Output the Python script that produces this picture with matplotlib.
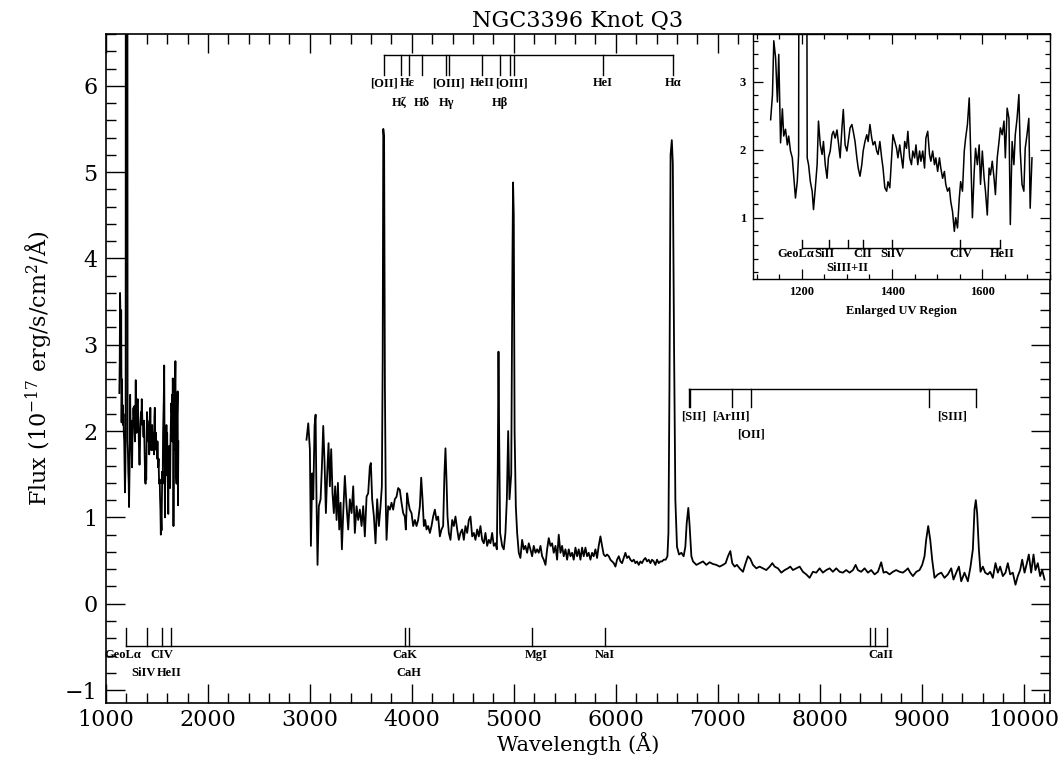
import numpy as np
import matplotlib
matplotlib.use('Agg')
import matplotlib.pyplot as plt
from matplotlib.ticker import MultipleLocator

plt.rcParams['font.family'] = 'serif'
plt.rcParams['font.serif'] = ['DejaVu Serif Condensed', 'DejaVu Serif']
plt.rcParams['mathtext.fontset'] = 'dejavuserif'

# UV part of the spectrum (wavelength in A, flux in 1e-17 erg/s/cm2/A)
uv_spec = [
    (1131, 2.44), (1135, 2.80), (1138, 3.60), (1142, 3.35), (1146, 2.70), (1149, 3.40), (1153, 2.10), (1157, 2.60), (1160, 2.20), (1164, 2.30),
    (1168, 2.07), (1171, 2.20), (1175, 1.98), (1179, 1.88), (1182, 1.63), (1186, 1.29), (1190, 1.53), (1193, 1.93), (1195, 12.0), (1209, 12.0),
    (1212, 1.88), (1215, 1.78), (1219, 1.53), (1223, 1.39), (1226, 1.12), (1230, 1.44), (1234, 1.78), (1237, 2.42), (1241, 2.07), (1245, 1.93),
    (1248, 2.12), (1252, 1.78), (1256, 1.58), (1259, 1.88), (1263, 1.98), (1267, 2.22), (1270, 2.27), (1274, 2.17), (1278, 2.29), (1281, 2.12),
    (1285, 1.88), (1289, 2.32), (1292, 2.59), (1296, 2.07), (1300, 1.98), (1303, 2.12), (1307, 2.32), (1311, 2.37), (1314, 2.27), (1318, 2.12),
    (1322, 1.88), (1325, 1.73), (1329, 1.61), (1333, 1.78), (1336, 1.98), (1340, 2.12), (1344, 2.22), (1347, 2.12), (1351, 2.37), (1355, 2.17),
    (1358, 2.07), (1362, 2.12), (1366, 1.98), (1369, 1.93), (1373, 2.12), (1377, 1.88), (1380, 1.73), (1384, 1.44), (1388, 1.39), (1391, 1.53),
    (1395, 1.44), (1399, 1.88), (1402, 2.22), (1406, 2.12), (1410, 2.02), (1413, 1.88), (1417, 2.07), (1421, 1.88), (1424, 1.73), (1428, 2.12),
    (1432, 2.02), (1435, 2.27), (1439, 1.88), (1443, 1.78), (1446, 1.98), (1450, 1.88), (1453, 2.07), (1457, 1.78), (1461, 1.98), (1464, 1.83),
    (1468, 1.98), (1472, 1.73), (1475, 2.17), (1479, 2.27), (1483, 1.93), (1486, 1.83), (1490, 1.98), (1494, 1.78), (1497, 1.88), (1501, 1.68),
    (1505, 1.88), (1508, 1.73), (1512, 1.58), (1516, 1.68), (1519, 1.49), (1523, 1.39), (1527, 1.44), (1530, 1.24), (1534, 1.09), (1538, 0.80),
    (1541, 1.00), (1545, 0.85), (1549, 1.29), (1552, 1.53), (1556, 1.39), (1560, 1.98), (1563, 2.17), (1567, 2.37), (1571, 2.76), (1574, 1.98),
    (1578, 1.00), (1582, 1.68), (1585, 2.02), (1589, 1.78), (1593, 2.07), (1596, 1.49), (1600, 1.98), (1604, 1.58), (1607, 1.39), (1611, 1.04),
    (1615, 1.73), (1618, 1.63), (1622, 1.83), (1626, 1.58), (1629, 1.34), (1633, 1.88), (1637, 2.12), (1640, 2.32), (1644, 2.22), (1648, 2.42),
    (1651, 1.88), (1655, 2.61), (1659, 2.46), (1662, 0.90), (1666, 2.12), (1670, 1.78), (1673, 2.22), (1677, 2.46), (1681, 2.81), (1684, 1.98),
    (1688, 1.49), (1692, 1.39), (1695, 2.02), (1699, 2.22), (1703, 2.46), (1706, 1.14), (1710, 1.88),
]

# optical part of the spectrum
opt_spec = [
    (2967, 1.90), (2984, 2.09), (3000, 1.79), (3010, 0.67), (3023, 1.51), (3033, 1.21), (3046, 2.06), (3056, 2.19), (3065, 1.21), (3075, 0.45),
    (3088, 1.13), (3105, 1.21), (3118, 1.59), (3131, 2.06), (3144, 1.63), (3157, 1.05), (3170, 1.51), (3183, 1.86), (3196, 1.36), (3209, 1.79),
    (3222, 1.28), (3235, 1.05), (3248, 1.36), (3262, 0.97), (3275, 1.40), (3288, 0.86), (3301, 1.17), (3314, 0.63), (3327, 1.05), (3343, 1.48),
    (3360, 1.13), (3376, 0.86), (3392, 1.21), (3409, 1.05), (3425, 1.36), (3441, 0.82), (3458, 1.13), (3474, 0.97), (3490, 1.09), (3507, 0.90),
    (3523, 1.13), (3539, 0.78), (3556, 1.24), (3572, 1.28), (3588, 1.59), (3598, 1.63), (3611, 1.21), (3628, 1.01), (3644, 0.70), (3660, 1.21),
    (3677, 0.90), (3693, 1.13), (3706, 1.36), (3714, 2.80), (3720, 5.50), (3728, 5.40), (3736, 2.50), (3745, 1.13), (3752, 0.74), (3768, 1.13),
    (3784, 1.09), (3801, 1.17), (3817, 1.09), (3833, 1.21), (3850, 1.24), (3866, 1.34), (3882, 1.32), (3899, 1.17), (3915, 1.05), (3931, 1.01),
    (3941, 0.86), (3954, 1.28), (3967, 1.17), (3980, 1.09), (3997, 1.05), (4013, 0.90), (4030, 0.97), (4046, 0.90), (4062, 0.97), (4079, 1.13),
    (4092, 1.46), (4105, 1.21), (4118, 0.90), (4131, 0.97), (4144, 0.86), (4160, 0.90), (4177, 0.82), (4193, 0.90), (4209, 1.01), (4226, 1.09),
    (4242, 0.97), (4258, 1.01), (4275, 0.78), (4291, 0.86), (4307, 0.90), (4320, 1.51), (4330, 1.80), (4340, 1.44), (4350, 1.01), (4363, 0.82),
    (4379, 0.74), (4396, 0.97), (4412, 0.90), (4428, 1.01), (4445, 0.86), (4461, 0.74), (4477, 0.82), (4494, 0.86), (4510, 0.74), (4526, 0.90),
    (4543, 0.82), (4559, 0.97), (4575, 1.01), (4592, 0.78), (4608, 0.82), (4624, 0.74), (4641, 0.86), (4657, 0.78), (4673, 0.90), (4690, 0.74),
    (4706, 0.70), (4722, 0.82), (4739, 0.67), (4755, 0.74), (4771, 0.70), (4788, 0.82), (4804, 0.67), (4820, 0.70), (4834, 0.63), (4843, 1.60),
    (4850, 2.92), (4857, 1.90), (4866, 0.82), (4886, 0.67), (4902, 0.63), (4918, 0.82), (4932, 1.21), (4945, 2.00), (4958, 1.21), (4975, 1.50),
    (4987, 4.00), (4993, 4.88), (5000, 4.50), (5008, 2.00), (5020, 1.13), (5033, 0.82), (5049, 0.59), (5065, 0.53), (5082, 0.74), (5098, 0.63),
    (5114, 0.67), (5131, 0.59), (5147, 0.70), (5163, 0.63), (5180, 0.55), (5196, 0.67), (5213, 0.59), (5229, 0.63), (5245, 0.59), (5262, 0.67),
    (5278, 0.55), (5294, 0.51), (5311, 0.45), (5327, 0.63), (5343, 0.76), (5360, 0.67), (5376, 0.70), (5392, 0.59), (5409, 0.67), (5425, 0.51),
    (5441, 0.80), (5458, 0.59), (5474, 0.67), (5490, 0.55), (5507, 0.63), (5523, 0.51), (5539, 0.63), (5556, 0.55), (5572, 0.59), (5588, 0.51),
    (5605, 0.65), (5621, 0.55), (5637, 0.63), (5654, 0.51), (5670, 0.65), (5686, 0.55), (5703, 0.65), (5719, 0.55), (5735, 0.59), (5752, 0.51),
    (5768, 0.59), (5784, 0.55), (5801, 0.63), (5817, 0.53), (5833, 0.67), (5850, 0.78), (5866, 0.67), (5882, 0.57), (5899, 0.55), (5915, 0.57),
    (5932, 0.55), (5948, 0.51), (5964, 0.49), (5981, 0.47), (5997, 0.43), (6013, 0.51), (6030, 0.55), (6046, 0.49), (6062, 0.47), (6079, 0.53),
    (6095, 0.59), (6111, 0.53), (6128, 0.55), (6144, 0.51), (6160, 0.49), (6177, 0.51), (6193, 0.47), (6209, 0.49), (6226, 0.45), (6242, 0.49),
    (6258, 0.47), (6275, 0.51), (6291, 0.53), (6307, 0.49), (6324, 0.51), (6340, 0.47), (6356, 0.51), (6373, 0.49), (6389, 0.45), (6405, 0.51),
    (6422, 0.47), (6438, 0.49), (6454, 0.49), (6471, 0.51), (6490, 0.51), (6507, 0.55), (6517, 0.82), (6527, 2.50), (6538, 5.20), (6550, 5.37),
    (6560, 5.10), (6572, 3.00), (6585, 1.20), (6601, 0.66), (6621, 0.57), (6644, 0.59), (6666, 0.55), (6683, 0.66), (6696, 0.93), (6712, 1.11),
    (6725, 0.90), (6742, 0.55), (6758, 0.49), (6791, 0.45), (6823, 0.47), (6856, 0.49), (6889, 0.45), (6921, 0.48), (6954, 0.46), (6987, 0.45),
    (7019, 0.43), (7052, 0.45), (7078, 0.47), (7101, 0.55), (7124, 0.61), (7143, 0.47), (7166, 0.43), (7189, 0.45), (7215, 0.41), (7248, 0.37),
    (7274, 0.47), (7297, 0.55), (7320, 0.52), (7346, 0.45), (7379, 0.41), (7411, 0.43), (7444, 0.41), (7477, 0.39), (7510, 0.43), (7536, 0.47),
    (7559, 0.43), (7591, 0.41), (7624, 0.36), (7657, 0.39), (7689, 0.41), (7712, 0.43), (7738, 0.39), (7771, 0.41), (7804, 0.43), (7836, 0.37),
    (7869, 0.34), (7902, 0.30), (7934, 0.37), (7967, 0.36), (8000, 0.41), (8032, 0.36), (8065, 0.39), (8098, 0.41), (8130, 0.37), (8163, 0.41),
    (8196, 0.37), (8228, 0.36), (8261, 0.39), (8294, 0.36), (8327, 0.39), (8353, 0.45), (8375, 0.39), (8408, 0.37), (8441, 0.41), (8474, 0.36),
    (8506, 0.39), (8539, 0.34), (8572, 0.37), (8604, 0.48), (8627, 0.36), (8653, 0.37), (8686, 0.34), (8719, 0.37), (8751, 0.39), (8784, 0.37),
    (8817, 0.36), (8849, 0.39), (8866, 0.41), (8889, 0.36), (8915, 0.32), (8948, 0.37), (8980, 0.39), (9006, 0.45), (9029, 0.55), (9045, 0.74),
    (9065, 0.90), (9085, 0.74), (9104, 0.51), (9127, 0.30), (9160, 0.34), (9193, 0.36), (9225, 0.30), (9258, 0.34), (9291, 0.41), (9313, 0.28),
    (9340, 0.36), (9366, 0.43), (9389, 0.26), (9421, 0.36), (9454, 0.26), (9480, 0.43), (9503, 0.63), (9519, 1.09), (9532, 1.20), (9545, 1.05),
    (9562, 0.63), (9578, 0.37), (9601, 0.43), (9624, 0.36), (9650, 0.34), (9673, 0.37), (9699, 0.30), (9725, 0.47), (9748, 0.36), (9771, 0.43),
    (9797, 0.32), (9823, 0.36), (9846, 0.47), (9869, 0.34), (9895, 0.36), (9921, 0.22), (9944, 0.32), (9967, 0.39), (9987, 0.51), (10010, 0.36),
    (10033, 0.47), (10052, 0.57), (10075, 0.36), (10098, 0.57), (10117, 0.39), (10140, 0.47), (10163, 0.32), (10183, 0.39), (10206, 0.28),
]

# line identifications: tick wavelengths, label texts, label positions, label rows
blue_ticks = [3727, 3889, 3970, 4101, 4340, 4363, 4686, 4861, 4959, 5007, 5876, 6563]
blue_text = ['[OII]', 'Hε', '[OIII]', 'HeII', '[OIII]', 'HeI', 'Hα', 'Hζ', 'Hδ', 'Hγ', 'Hβ']
blue_wave = [3727, 3955, 4355, 4686, 4978, 5876, 6563, 3880, 4101, 4340, 4861]
blue_row = [0, 0, 0, 0, 0, 0, 0, 1, 1, 1, 1]

red_ticks = [6717, 6731, 7136, 7325, 9069, 9532]
red_text = ['[SII]', '[ArIII]', '[SIII]', '[OII]']
red_wave = [6765, 7130, 9300, 7325]
red_row = [0, 0, 0, 1]

abs_ticks = [1200, 1400, 1550, 1640, 3934, 3968, 5175, 5893, 8498, 8542, 8662]
abs_text = ['GeoLα', 'CIV', 'CaK', 'MgI', 'NaI', 'CaII', 'SiIV', 'HeII', 'CaH']
abs_wave = [1160, 1550, 3934, 5225, 5893, 8600, 1365, 1625, 3968]
abs_row = [0, 0, 0, 0, 0, 0, 1, 1, 1]

uv_ticks = [1200, 1260, 1302, 1335, 1400, 1550, 1640]
uv_text = ['GeoLα', 'SiII', 'CII', 'SiIV', 'CIV', 'HeII', 'SiIII+II']
uv_wave = [1187, 1250, 1335, 1402, 1552, 1644, 1300]
uv_row = [0, 0, 0, 0, 0, 0, 1]

uv_w = np.array([p[0] for p in uv_spec])
uv_f = np.array([p[1] for p in uv_spec])
opt_w = np.array([p[0] for p in opt_spec])
opt_f = np.array([p[1] for p in opt_spec])

LABEL_FONT = dict(family=['Liberation Serif', 'DejaVu Serif'], fontweight='bold', fontsize=9)


def draw_ids(a, ticks, y_line, y_end, texts, waves, rows, row_y):
    a.plot([min(ticks), max(ticks)], [y_line, y_line], color='k', lw=1.0)
    for t in ticks:
        a.plot([t, t], [y_line, y_end], color='k', lw=1.0)
    for txt, w, r in zip(texts, waves, rows):
        a.text(w, row_y[r], txt, ha='center', va='center', **LABEL_FONT)


fig = plt.figure(figsize=(10.63, 7.6), dpi=100)
ax = fig.add_axes([0.0997, 0.075, 0.8881, 0.8803])

ax.plot(uv_w, uv_f, color='k', lw=1.3)
ax.plot(opt_w, opt_f, color='k', lw=1.3)

draw_ids(ax, blue_ticks, 6.36, 6.13, blue_text, blue_wave, blue_row, [6.03, 5.80])
draw_ids(ax, red_ticks, 2.49, 2.28, red_text, red_wave, red_row, [2.17, 1.96])
draw_ids(ax, abs_ticks, -0.49, -0.28, abs_text, abs_wave, abs_row, [-0.59, -0.80])

ax.set_xlim(1000, 10260)
ax.set_ylim(-1.15, 6.6)
ax.xaxis.set_major_locator(MultipleLocator(1000))
ax.xaxis.set_minor_locator(MultipleLocator(200))
ax.yaxis.set_major_locator(MultipleLocator(1))
ax.yaxis.set_minor_locator(MultipleLocator(0.2))
ax.tick_params(which='both', direction='in', top=True, right=True, width=1.0)
ax.tick_params(which='major', length=14, labelsize=16, pad=6)
ax.tick_params(axis='x', which='major', pad=4)
ax.tick_params(which='minor', length=7)
for s in ax.spines.values():
    s.set_linewidth(1.2)

ax.set_title('NGC3396 Knot Q3', fontsize=16, pad=5)
ax.set_xlabel('Wavelength (Å)', fontsize=15, labelpad=1)
ax.set_ylabel(r'Flux (10$^{-17}$ erg/s/cm$^{2}$/Å)', fontsize=16, labelpad=8)

# enlarged UV region inset
axin = fig.add_axes([0.7084, 0.6329, 0.2794, 0.3224])
axin.plot(uv_w, uv_f, color='k', lw=1.1)
draw_ids(axin, uv_ticks, 0.56, 0.67, uv_text, uv_wave, uv_row, [0.46, 0.26])
axin.set_xlim(1092, 1750)
axin.set_ylim(0.1, 3.7)
axin.xaxis.set_major_locator(MultipleLocator(200))
axin.xaxis.set_minor_locator(MultipleLocator(50))
axin.yaxis.set_major_locator(MultipleLocator(1))
axin.yaxis.set_minor_locator(MultipleLocator(0.2))
axin.tick_params(which='both', direction='in', top=True, right=True, width=0.9)
axin.tick_params(which='major', length=7, labelsize=9, pad=5)
axin.tick_params(which='minor', length=3.5)
for lab in axin.get_xticklabels() + axin.get_yticklabels():
    lab.set_fontfamily(['Liberation Serif', 'DejaVu Serif'])
    lab.set_fontweight('bold')
axin.set_xlabel('Enlarged UV Region', labelpad=5, **LABEL_FONT)
for s in axin.spines.values():
    s.set_linewidth(1.0)

fig.savefig('out.png', dpi=100)
